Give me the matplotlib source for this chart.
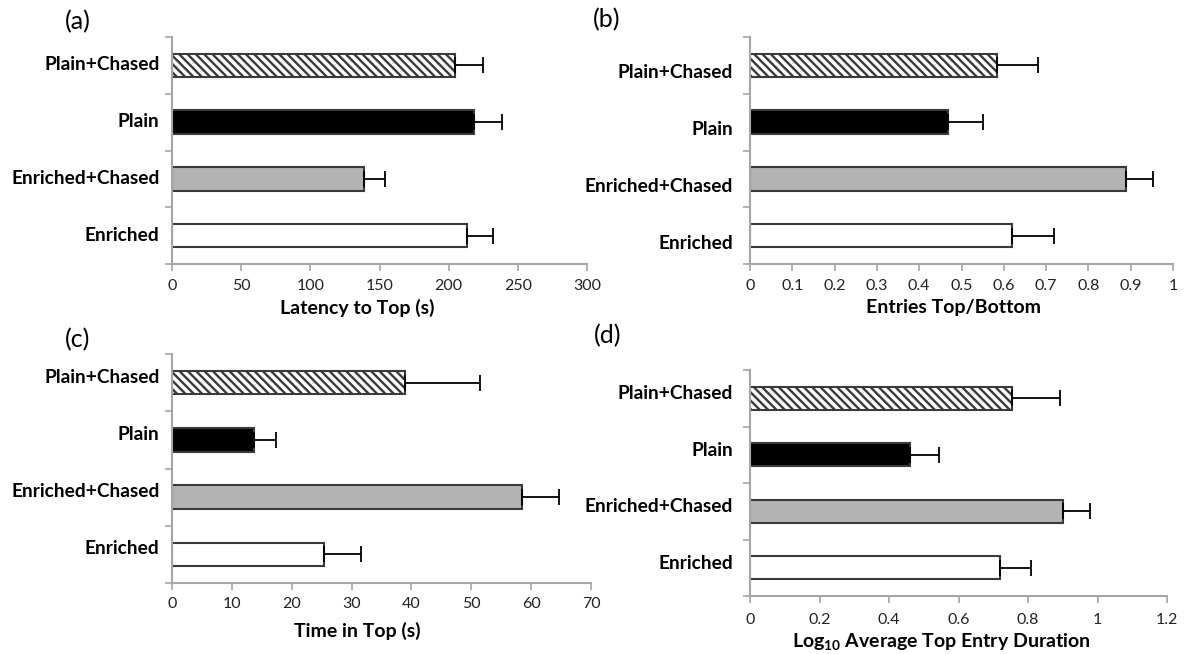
import matplotlib
matplotlib.use("Agg")
import matplotlib.pyplot as plt
import matplotlib.transforms as mtransforms
import numpy as np

# ---- data (bottom to top) ----
categories = ["Enriched", "Enriched+Chased", "Plain", "Plain+Chased"]
latency = [213.4, 139.1, 218.4, 204.6]
latency_err = [18.3, 15.2, 20.2, 20.2]
entries = [0.619, 0.889, 0.467, 0.584]
entries_err = [0.100, 0.063, 0.083, 0.096]
time_top = [25.4, 58.5, 13.7, 38.9]
time_top_err = [6.2, 6.1, 3.7, 12.6]
log_dur = [0.719, 0.902, 0.461, 0.755]
log_dur_err = [0.090, 0.076, 0.083, 0.137]

lat_ticks = [0, 50, 100, 150, 200, 250, 300]
ent_ticks = [0, 0.1, 0.2, 0.3, 0.4, 0.5, 0.6, 0.7, 0.8, 0.9, 1]
ent_ticklabels = ["0", "0.1", "0.2", "0.3", "0.4", "0.5", "0.6", "0.7", "0.8", "0.9", "1"]
time_ticks = [0, 10, 20, 30, 40, 50, 60, 70]
log_ticks = [0, 0.2, 0.4, 0.6, 0.8, 1.0, 1.2]
log_ticklabels = ["0", "0.2", "0.4", "0.6", "0.8", "1", "1.2"]

plt.rcParams["font.family"] = ["Lato", "DejaVu Sans"]
plt.rcParams["mathtext.default"] = "regular"
plt.rcParams["hatch.color"] = "black"
plt.rcParams["hatch.linewidth"] = 1.7

W, H = 1188, 654
fig = plt.figure(figsize=(W / 100, H / 100), dpi=100)
fig.patch.set_facecolor("white")

facecolors = ["white", "#b3b3b3", "black", "white"]
hatches = [None, None, None, "\\\\\\\\"]
edge = "#3a3a3a"
spine_c = "#a6a6a6"


def px_axes(l, t, r, b):
    return [l / W, 1 - b / H, (r - l) / W, (b - t) / H]


panels = [
    dict(rect=px_axes(172, 37, 587, 264), vals=latency, errs=latency_err, xlim=300,
         ticks=lat_ticks, tlabels=[str(t) for t in lat_ticks], xlabel="Latency to Top (s)",
         lx=0.446, ly=-0.194, tag="(a)", tagxy=(78, 22), ldy=-2, pad=9, tpad=5.5),
    dict(rect=px_axes(750, 37, 1173, 264), vals=entries, errs=entries_err, xlim=1.0,
         ticks=ent_ticks, tlabels=ent_ticklabels, xlabel="Entries Top/Bottom",
         lx=0.482, ly=-0.19, tag="(b)", tagxy=(607, 20), ldy=6, pad=12, tpad=6),
    dict(rect=px_axes(172, 354, 591, 583), vals=time_top, errs=time_top_err, xlim=70,
         ticks=time_ticks, tlabels=[str(t) for t in time_ticks], xlabel="Time in Top (s)",
         lx=0.443, ly=-0.21, tag="(c)", tagxy=(78, 340), ldy=-7, pad=9, tpad=5),
    dict(rect=px_axes(750, 370, 1167, 596), vals=log_dur, errs=log_dur_err, xlim=1.2,
         ticks=log_ticks, tlabels=log_ticklabels,
         xlabel="Log$_{10}$ Average Top Entry Duration",
         lx=0.458, ly=-0.203, tag="(d)", tagxy=(608, 336), ldy=-6, pad=12, tpad=7),
]

y = np.arange(len(categories))
for p in panels:
    ax = fig.add_axes(p["rect"])
    for i in range(len(categories)):
        ax.barh(y[i], p["vals"][i], height=0.41, color=facecolors[i],
                edgecolor=edge, linewidth=1.5, hatch=hatches[i], zorder=2)
    ax.errorbar(p["vals"], y, xerr=[np.zeros(len(y)), p["errs"]], fmt="none",
                ecolor="black", elinewidth=1.3, capsize=5.5, capthick=1.3, zorder=3)
    ax.set_xlim(0, p["xlim"])
    ax.set_ylim(-0.5, len(categories) - 0.5)
    for s in ["top", "right"]:
        ax.spines[s].set_visible(False)
    for s in ["left", "bottom"]:
        ax.spines[s].set_color(spine_c)
        ax.spines[s].set_linewidth(1.5)
    ax.set_xticks(p["ticks"])
    ax.set_xticklabels(p["tlabels"], fontsize=11.5, color="#222222")
    ax.tick_params(axis="x", length=5, width=1.2, color=spine_c, pad=p["tpad"])
    ax.set_yticks(y)
    ax.set_yticklabels(categories, fontsize=13.8, fontweight="bold")
    ax.set_yticks(np.arange(-0.5, len(categories), 1.0), minor=True)
    ax.tick_params(axis="y", which="major", length=0, pad=p["pad"])
    ax.tick_params(axis="y", which="minor", length=5, width=1.2, color=spine_c)
    off = mtransforms.ScaledTranslation(0, -p["ldy"] / 100, fig.dpi_scale_trans)
    for lab in ax.get_yticklabels():
        lab.set_transform(lab.get_transform() + off)
    ax.set_xlabel(p["xlabel"], fontsize=14, fontweight="bold", va="center")
    ax.xaxis.set_label_coords(p["lx"], p["ly"])
    fig.text(p["tagxy"][0] / W, 1 - p["tagxy"][1] / H, p["tag"], fontsize=18,
             ha="center", va="center")

fig.savefig("out.png", dpi=100, facecolor="white")
